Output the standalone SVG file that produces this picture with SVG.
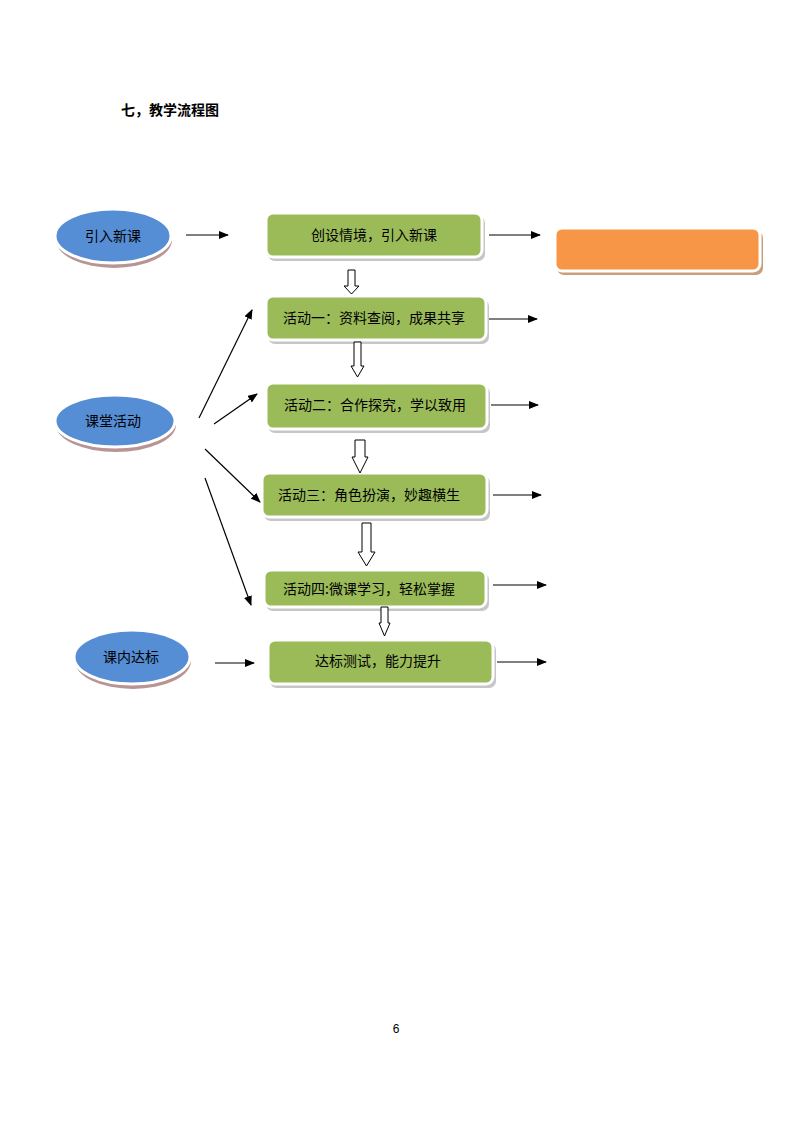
<svg xmlns="http://www.w3.org/2000/svg" width="794" height="1123" viewBox="0 0 794 1123">
<defs>
<marker id="ah" markerWidth="10" markerHeight="8" refX="9" refY="4" orient="auto" markerUnits="userSpaceOnUse">
<path d="M0,0 L10,4 L0,8 Z" fill="#000"/>
</marker>
</defs>
<style>
.t{font-family:"Noto Sans CJK SC","Liberation Sans",sans-serif;font-size:14px;fill:#000;text-anchor:middle;}
.box{fill:#9BBB59;stroke:#fff;stroke-width:3;}
.bsh{fill:#c6c6c6;}
.ell{fill:#558ED5;stroke:#fff;stroke-width:3;}
.esh{fill:#b89494;}
.conn{stroke:#000;stroke-width:1.2;fill:none;marker-end:url(#ah);}
.hol{fill:#fff;stroke:#000;stroke-width:1;}
</style>
<rect width="794" height="1123" fill="#fff"/>
<text x="121" y="115" style="font-family:'Noto Sans CJK SC',sans-serif;font-size:14px;font-weight:bold;">七，教学流程图</text>

<g id="n-yinru">
<ellipse class="esh" cx="114" cy="240" rx="58" ry="28"/>
<ellipse class="ell" cx="113" cy="236" rx="58" ry="27"/>
<text class="t" x="113" y="241">引入新课</text>
</g>
<g id="n-ketang">
<ellipse class="esh" cx="116" cy="425" rx="60" ry="27"/>
<ellipse class="ell" cx="115" cy="421" rx="60" ry="26"/>
<text class="t" x="113" y="426">课堂活动</text>
</g>
<g id="n-kenei">
<ellipse class="esh" cx="133" cy="661" rx="58" ry="28"/>
<ellipse class="ell" cx="132" cy="657" rx="58" ry="27"/>
<text class="t" x="131" y="662">课内达标</text>
</g>

<g id="n-chuangshe">
<rect class="bsh" x="268" y="216" width="217" height="45" rx="7"/>
<rect class="box" x="266" y="213" width="216" height="44" rx="7"/>
<text class="t" x="374" y="240">创设情境，引入新课</text>
</g>
<g id="n-orange">
<rect fill="#c9a07d" x="557" y="231" width="206" height="44" rx="7"/>
<rect fill="#F79646" stroke="#fff" stroke-width="3" x="555" y="228" width="205" height="43" rx="7"/>
</g>
<g id="n-huodong1">
<rect class="bsh" x="268" y="299" width="221" height="45" rx="7"/>
<rect class="box" x="266" y="296" width="220" height="44" rx="7"/>
<text class="t" x="374" y="323">活动一：资料查阅，成果共享</text>
</g>
<g id="n-huodong2">
<rect class="bsh" x="268" y="386" width="222" height="47" rx="7"/>
<rect class="box" x="266" y="383" width="221" height="46" rx="7"/>
<text class="t" x="375" y="410">活动二：合作探究，学以致用</text>
</g>
<g id="n-huodong3">
<rect class="bsh" x="264" y="476" width="226" height="45" rx="7"/>
<rect class="box" x="262" y="473" width="225" height="44" rx="7"/>
<text class="t" x="369" y="500">活动三：角色扮演，妙趣横生</text>
</g>
<g id="n-huodong4">
<rect class="bsh" x="266" y="573" width="223" height="38" rx="7"/>
<rect class="box" x="264" y="570" width="222" height="37" rx="7"/>
<text class="t" x="369" y="594">活动四:微课学习，轻松掌握</text>
</g>
<g id="n-dabiao">
<rect class="bsh" x="270" y="643" width="226" height="45" rx="7"/>
<rect class="box" x="268" y="640" width="225" height="44" rx="7"/>
<text class="t" x="378" y="666">达标测试，能力提升</text>
</g>

<g id="connectors">
<line class="conn" x1="186" y1="235" x2="228" y2="235"/>
<line class="conn" x1="489" y1="235" x2="540" y2="235"/>
<line class="conn" x1="489" y1="319" x2="537" y2="319"/>
<line class="conn" x1="491" y1="405" x2="538" y2="405"/>
<line class="conn" x1="493" y1="495" x2="541" y2="495"/>
<line class="conn" x1="493" y1="585" x2="546" y2="585"/>
<line class="conn" x1="497" y1="662" x2="546" y2="662"/>
<line class="conn" x1="215" y1="663" x2="254" y2="663"/>
<line class="conn" x1="199" y1="418" x2="252" y2="310"/>
<line class="conn" x1="214" y1="424" x2="257" y2="394"/>
<line class="conn" x1="205" y1="449" x2="260" y2="502"/>
<line class="conn" x1="205" y1="478" x2="251" y2="605"/>
<path class="hol" d="M348,270 H355 V286 H359 L351.5,294 L344,286 H348 Z"/>
<path class="hol" d="M354,342 H361 V366 H364 L357.5,377 L351,366 H354 Z"/>
<path class="hol" d="M355,440 H365 V457 H368 L360,473 L352,457 H355 Z"/>
<path class="hol" d="M362,523 H371 V552 H375 L366.5,566 L358,552 H362 Z"/>
<path class="hol" d="M381,607 H388 V623 H390 L384.5,636 L379,623 H381 Z"/>
</g>
<text x="396" y="1033" style="font-family:'Liberation Sans',sans-serif;font-size:12px;text-anchor:middle;">6</text>
</svg>
